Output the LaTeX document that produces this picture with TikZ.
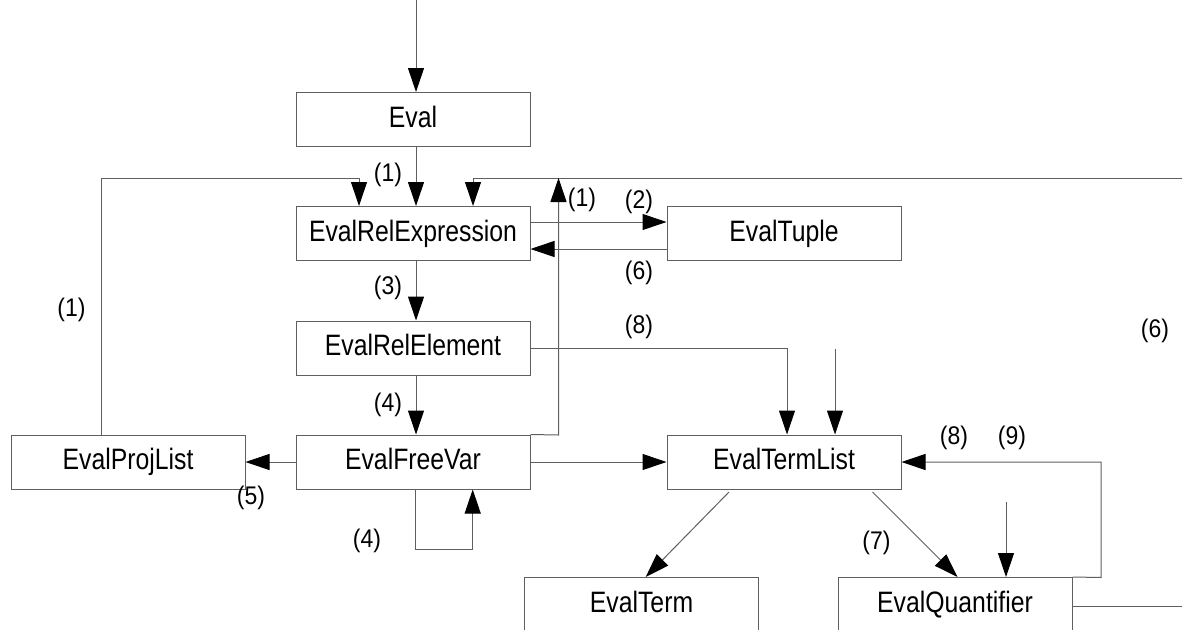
\documentclass[tikz,border=0pt]{standalone}
\usepackage{fontspec}
\setmainfont{Liberation Sans}
\newfontfamily\boxfont[FakeStretch=0.84]{Liberation Sans}
\newfontfamily\lblfont[FakeStretch=0.9]{Liberation Sans}
\usetikzlibrary{arrows.meta}
\definecolor{wire}{RGB}{95,95,95}
\tikzset{
  proc/.style={draw=wire, line width=1pt, fill=white, minimum width=234pt, minimum height=54pt,
    inner sep=0pt, text height=21pt, text depth=6pt, font=\boxfont\fontsize{29.5}{32}\selectfont},
  lbl/.style={inner sep=0pt, font=\lblfont\fontsize{25.5}{28}\selectfont},
  link/.style={draw=wire, line width=1pt},
  arr/.style={link, -{Triangle[length=24pt,width=16pt,color=black]}}
}
\begin{document}
\begin{tikzpicture}[x=1pt,y=-1pt]
\useasboundingbox (0,0) rectangle (1182,629);

% procedure boxes
\node[proc] (eval)  at (413,119.5) {Eval};
\node[proc] (rexp)  at (413,233.5) {EvalRelExpression};
\node[proc] (tuple) at (784,233.5) {EvalTuple};
\node[proc] (relel) at (413,348)   {EvalRelElement};
\node[proc] (free)  at (413,462)   {EvalFreeVar};
\node[proc] (proj)  at (128,462)   {EvalProjList};
\node[proc] (tlist) at (784,462)   {EvalTermList};
\node[proc] (term)  at (641.5,604.5) {EvalTerm};
\node[proc] (quant) at (955,604.5) {EvalQuantifier};

% loose ends of connectors
\coordinate (entry)  at (416,0);
\coordinate (feedR)  at (1182,178);
\coordinate (tlIn)   at (835,349);
\coordinate (qIn)    at (1006,502);
\coordinate (qOut)   at (1182,606);

% main chain
\draw[arr] (entry) -- (eval.north -| entry);
\draw[arr] (eval.south -| entry) -- (rexp.north -| entry);
\draw[arr] (rexp.south -| entry) -- (relel.north -| entry);
\draw[arr] (relel.south -| entry) -- (free.north -| entry);

% returns into EvalRelExpression
\draw[arr] (proj.north -| 101.7,0) -- (101.7,178) -- (359,178) -- (rexp.north -| 359,0);
\draw[arr] (feedR) -- (473,178) -- (rexp.north -| 473,0);
\draw[arr] (free.north east) -- (558.5,435) -- (558.5,178);

% EvalRelExpression <-> EvalTuple
\draw[arr] (rexp.east |- 0,222) -- (tuple.west |- 0,222);
\draw[arr] (tuple.west |- 0,249) -- (rexp.east |- 0,249);

% into EvalTermList
\draw[arr] (relel.east) -- (relel.east -| 787,0) -- (tlist.north -| 787,0);
\draw[arr] (tlIn) -- (tlist.north -| tlIn);
\draw[arr] (free.east) -- (tlist.west);

% EvalFreeVar self loop and projection list
\draw[arr] (free.south -| 415,0) -- (415,549) -- (472.7,549) -- (free.south -| 472.7,0);
\draw[arr] (free.west) -- (proj.east);

% EvalTermList fan-out
\draw[arr] (729,492) -- (term.north -| 645.7,0);
\draw[arr] (872.5,492) -- (quant.north -| 957.5,0);
\draw[arr] (qIn) -- (quant.north -| qIn);
\draw[arr] (quant.north east) -- (1101,577.5) -- (1101,462) -- (tlist.east);
\draw[link] (quant.east |- qOut) -- (qOut);

% step numbers
\node[lbl] at (388,175) {(1)};
\node[lbl] at (582,200) {(1)};
\node[lbl] at (639,202) {(2)};
\node[lbl] at (639,273) {(6)};
\node[lbl] at (388,288) {(3)};
\node[lbl] at (639,327) {(8)};
\node[lbl] at (71.5,310) {(1)};
\node[lbl] at (1155,331) {(6)};
\node[lbl] at (388,405) {(4)};
\node[lbl] at (251,498) {(5)};
\node[lbl] at (367,541) {(4)};
\node[lbl] at (954,438) {(8)};
\node[lbl] at (1012,438) {(9)};
\node[lbl] at (876.5,543) {(7)};
\end{tikzpicture}
\end{document}
